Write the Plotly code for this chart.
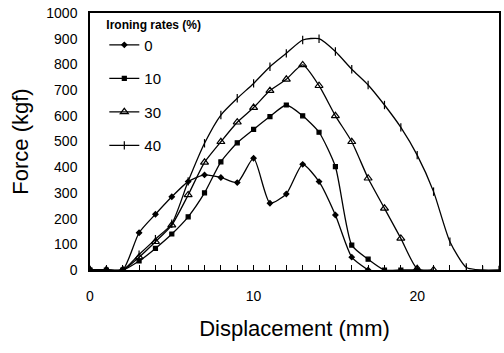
import plotly.graph_objects as go

# Displacement (mm) and force (kgf) for each ironing rate
x0 = list(range(0, 18))
f0 = [0, 0, 0, 145, 217, 285, 344, 370, 360, 340, 435, 260, 296, 411, 344, 214, 50, 0]

x10 = list(range(0, 21))
f10 = [0, 0, 0, 35, 84, 140, 207, 300, 421, 495, 547, 597, 642, 600, 536, 402, 97, 42, 0, 0, 0]

x30 = list(range(0, 22))
f30 = [0, 0, 0, 50, 110, 175, 292, 419, 499, 575, 632, 698, 742, 798, 717, 600, 499, 357, 240, 123, 5, 0]

x40 = list(range(0, 26))
f40 = [0, 0, 0, 60, 120, 180, 345, 493, 603, 668, 726, 791, 843, 895, 900, 850, 781, 720, 642, 555, 447, 305, 110, 10, 0, 0]

names = ["0", "10", "30", "40"]
xs = [x0, x10, x30, x40]
ys = [f0, f10, f30, f40]
symbols = ["diamond", "square", "triangle-up-open", "line-ns"]
sizes = [4, 4, 7, 6]

FONT = "Liberation Sans Narrow, Liberation Sans, Arial, sans-serif"

fig = go.Figure()
for i in range(4):
    fig.add_trace(go.Scatter(
        x=xs[i], y=ys[i], name=names[i], mode="lines+markers",
        legendgroup=names[i],
        line=dict(color="black", width=1.3, shape="spline", smoothing=0.6),
        marker=dict(symbol=symbols[i], size=sizes[i], color="black",
                    line=dict(color="black", width=1.2)),
    ))

xtv = list(range(0, 26))
xtt = [str(v) if v % 10 == 0 else "" for v in xtv]

fig.update_layout(
    width=504, height=353,
    margin=dict(l=90, r=3, t=13, b=83),
    paper_bgcolor="white", plot_bgcolor="white",
    font=dict(family=FONT, color="black"),
    showlegend=True,
    legend=dict(
        x=0.035, y=1.0, xanchor="left", yanchor="top",
        bgcolor="rgba(0,0,0,0)",
        title=dict(text="<b>Ironing rates (%)</b>",
                   font=dict(family="Liberation Sans, Arial", size=12, color="black"),
                   side="top"),
        font=dict(family=FONT, size=15, color="black"),
        tracegroupgap=11,
        itemwidth=30,
    ),
    xaxis=dict(
        range=[0, 25], tickvals=xtv, ticktext=xtt,
        ticks="inside", ticklen=5, tickcolor="black", tickwidth=1,
        showline=True, linecolor="black", linewidth=1.5, mirror=True,
        showgrid=False, zeroline=False,
        tickfont=dict(family=FONT, size=14, color="black"),
        ticklabelstandoff=12,
        title=dict(text="Displacement (mm)",
                   font=dict(family="Liberation Sans, Arial", size=22, color="black"),
                   standoff=18),
    ),
    yaxis=dict(
        range=[0, 1000], dtick=100,
        ticks="", showline=True, linecolor="black", linewidth=1.5, mirror=True,
        showgrid=False, zeroline=False,
        tickfont=dict(family=FONT, size=14, color="black"),
        ticklabelstandoff=8,
        title=dict(text="Force (kgf)",
                   font=dict(family="Liberation Sans, Arial", size=22, color="black"),
                   standoff=12),
    ),
)

fig.write_html("out.html")
